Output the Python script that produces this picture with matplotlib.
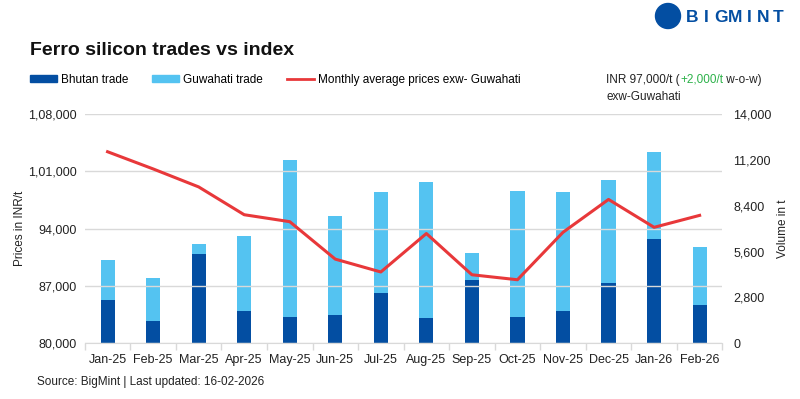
import matplotlib.pyplot as plt
import matplotlib.patches as mpatches
from matplotlib.lines import Line2D
from matplotlib.ticker import FixedLocator
import numpy as np

plt.rcParams['font.family'] = ['Liberation Sans', 'DejaVu Sans']

# data
months = ['Jan-25', 'Feb-25', 'Mar-25', 'Apr-25', 'May-25', 'Jun-25', 'Jul-25',
          'Aug-25', 'Sep-25', 'Oct-25', 'Nov-25', 'Dec-25', 'Jan-26', 'Feb-26']
bhutan = [2620, 1340, 5420, 1950, 1580, 1700, 3040, 1520, 3830, 1580, 1950, 3650, 6390, 2310]
total = [5110, 3960, 6030, 6570, 11200, 7790, 9250, 9860, 5480, 9310, 9250, 9980, 11690, 5900]
guwahati = [t - b for t, b in zip(total, bhutan)]
price = [103400, 101300, 99100, 95700, 94850, 90270, 88700, 93400, 88360, 87750,
         93550, 97570, 94160, 95620]

price_ticks = [80000, 87000, 94000, 101000, 108000]
price_labels = ['80,000', '87,000', '94,000', '1,01,000', '1,08,000']
vol_ticks = [0, 2800, 5600, 8400, 11200, 14000]
vol_labels = ['0', '2,800', '5,600', '8,400', '11,200', '14,000']

dark_blue = '#034ea2'
light_blue = '#54c3f1'
red = '#e8383a'
green = '#2db24a'
grey = '#d9d9d9'
txt = '#222222'

fig = plt.figure(figsize=(8, 3.99), dpi=100)
ax = fig.add_axes([0.106, 0.140, 0.797, 0.574])
ax2 = ax.twinx()

x = np.arange(len(months))

# bars on the volume axis
ax2.bar(x, bhutan, width=0.31, color=dark_blue, zorder=2)
ax2.bar(x, guwahati, width=0.31, bottom=bhutan, color=light_blue, zorder=2)
ax2.set_ylim(0, 14000)
ax2.yaxis.set_major_locator(FixedLocator(vol_ticks))
ax2.set_yticklabels(vol_labels)

# price line on the left axis, drawn above the bars
ax.set_zorder(ax2.get_zorder() + 1)
ax.patch.set_visible(False)
ax.plot(x, price, color=red, lw=2.2, zorder=3)
ax.set_ylim(80000, 108000)
ax.yaxis.set_major_locator(FixedLocator(price_ticks))
ax.set_yticklabels(price_labels)
ax.grid(axis='y', color=grey, lw=1)
ax.set_axisbelow(True)
ax.set_xlim(-0.5, len(months) - 0.5)

ax.set_xticks(x)
ax.set_xticklabels(months)
ax.set_xticks(np.arange(-0.5, len(months)), minor=True)
ax.tick_params(axis='x', which='major', length=0, pad=8, labelsize=9, colors=txt)
ax.tick_params(axis='x', which='minor', length=5, color=grey, width=1)
ax.tick_params(axis='y', length=0, labelsize=9, colors=txt, pad=6)
ax2.tick_params(axis='y', length=0, labelsize=9, colors=txt, pad=8)

for a in (ax, ax2):
    for s in ('top', 'left', 'right'):
        a.spines[s].set_visible(False)
    a.spines['bottom'].set_color(grey)
ax2.spines['bottom'].set_visible(False)

ax.set_ylabel('Prices in INR/t', fontsize=8.5, color=txt, labelpad=1)
ax2.set_ylabel('Volume in t', fontsize=8.5, color=txt, labelpad=4)

# title, legend, notes
fig.text(0.037, 0.862, 'Ferro silicon trades vs index', fontsize=14, fontweight='bold',
         color='#111111')

handles = [mpatches.Patch(color=dark_blue, label='Bhutan trade'),
           mpatches.Patch(color=light_blue, label='Guwahati trade'),
           Line2D([], [], color=red, lw=2, label='Monthly average prices exw- Guwahati')]
fig.legend(handles=handles, loc='center left', bbox_to_anchor=(0.037, 0.80), ncol=3,
           frameon=False, fontsize=8.5, handlelength=2.3, handleheight=0.6,
           columnspacing=2.0, handletextpad=0.35, borderaxespad=0, borderpad=0)

y_note = 0.80
t1 = fig.text(0.758, y_note, 'INR 97,000/t (', fontsize=8.5, color=txt, va='center')
fig.canvas.draw()
r = fig.canvas.get_renderer()
bb = t1.get_window_extent(r)
t2 = fig.text(bb.x1 / fig.bbox.width, y_note, '+2,000/t', fontsize=8.5, color=green, va='center')
bb = t2.get_window_extent(r)
fig.text(bb.x1 / fig.bbox.width, y_note, ' w-o-w)', fontsize=8.5, color=txt, va='center')
fig.text(0.758, 0.757, 'exw-Guwahati', fontsize=8.5, color=txt, va='center')

fig.text(0.046, 0.035, 'Source: BigMint | Last updated: 16-02-2026', fontsize=8.5, color=txt)

# logo: round icon plus spaced lettering
fig.patches.append(mpatches.Ellipse((668 / 800, 1 - 16 / 399), 25 / 800, 25 / 399,
                                    transform=fig.transFigure, color=dark_blue, zorder=5))
for i, ch in enumerate('BIGMINT'):
    fig.text((686 + i * 14.3 + 6) / 800, 1 - 17 / 399, ch, fontsize=12.5, fontweight='bold',
             color=dark_blue, va='center', ha='center')

fig.savefig('out.png', dpi=100, facecolor='white')
